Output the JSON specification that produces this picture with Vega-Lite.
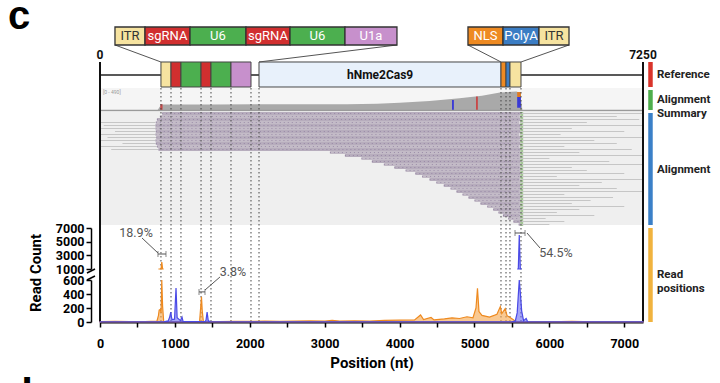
{
"$schema":"https://vega.github.io/schema/vega-lite/v6.json",
"width":720,"height":322,"autosize":"none",
"padding":{"left":0,"top":0,"right":0,"bottom":61},
"background":"white",
"config":{"view":{"stroke":null},"font":"Roboto","axis":{"grid":false}},
"resolve":{"scale":{"y":"independent","color":"independent"},"axis":{"x":"independent","y":"independent"}},
"datasets":{
"one":[{}],
"fwd":[{"pos":0,"count":6},{"pos":200,"count":8},{"pos":400,"count":5},{"pos":600,"count":7},{"pos":760,"count":12},{"pos":780,"count":90},{"pos":790,"count":170},{"pos":805,"count":180},{"pos":815,"count":130},{"pos":825,"count":2020},{"pos":836,"count":220},{"pos":850,"count":10},{"pos":900,"count":5},{"pos":1100,"count":6},{"pos":1330,"count":10},{"pos":1345,"count":220},{"pos":1355,"count":360},{"pos":1365,"count":160},{"pos":1380,"count":8},{"pos":1600,"count":6},{"pos":1800,"count":10},{"pos":2000,"count":8},{"pos":2200,"count":14},{"pos":2400,"count":9},{"pos":2600,"count":12},{"pos":2800,"count":16},{"pos":3000,"count":12},{"pos":3100,"count":24},{"pos":3200,"count":14},{"pos":3400,"count":18},{"pos":3600,"count":14},{"pos":3800,"count":22},{"pos":4000,"count":26},{"pos":4200,"count":30},{"pos":4280,"count":100},{"pos":4320,"count":35},{"pos":4420,"count":65},{"pos":4460,"count":30},{"pos":4600,"count":45},{"pos":4700,"count":60},{"pos":4800,"count":50},{"pos":4900,"count":75},{"pos":4980,"count":60},{"pos":5020,"count":200},{"pos":5040,"count":480},{"pos":5060,"count":150},{"pos":5100,"count":95},{"pos":5200,"count":70},{"pos":5300,"count":110},{"pos":5345,"count":220},{"pos":5365,"count":120},{"pos":5410,"count":190},{"pos":5435,"count":90},{"pos":5480,"count":60},{"pos":5530,"count":25},{"pos":5570,"count":5},{"pos":5650,"count":2},{"pos":6000,"count":3},{"pos":6300,"count":9},{"pos":6600,"count":3},{"pos":7000,"count":2},{"pos":7250,"count":2}],
"rev":[{"pos":0,"count":3},{"pos":850,"count":3},{"pos":910,"count":15},{"pos":930,"count":70},{"pos":945,"count":140},{"pos":960,"count":35},{"pos":995,"count":40},{"pos":1015,"count":485},{"pos":1030,"count":60},{"pos":1075,"count":20},{"pos":1095,"count":70},{"pos":1110,"count":5},{"pos":1400,"count":4},{"pos":1415,"count":25},{"pos":1430,"count":140},{"pos":1445,"count":20},{"pos":1470,"count":3},{"pos":5500,"count":3},{"pos":5545,"count":15},{"pos":5570,"count":130},{"pos":5585,"count":380},{"pos":5598,"count":5970},{"pos":5612,"count":420},{"pos":5630,"count":160},{"pos":5655,"count":20},{"pos":5690,"count":50},{"pos":5710,"count":4},{"pos":7250,"count":3}],
"coverage":[{"pos":770,"depth":0},{"pos":800,"depth":80},{"pos":830,"depth":125},{"pos":1500,"depth":125},{"pos":2500,"depth":128},{"pos":3300,"depth":130},{"pos":3700,"depth":140},{"pos":4000,"depth":160},{"pos":4400,"depth":200},{"pos":4800,"depth":260},{"pos":5100,"depth":320},{"pos":5340,"depth":390},{"pos":5560,"depth":410},{"pos":5610,"depth":380},{"pos":5640,"depth":0}],
"mism":[{"start":805,"end":835,"lo":0,"hi":130,"base":"T"},{"start":4700,"end":4725,"lo":0,"hi":220,"base":"C"},{"start":5020,"end":5045,"lo":0,"hi":300,"base":"T"},{"start":5570,"end":5620,"lo":50,"hi":290,"base":"C"},{"start":5570,"end":5620,"lo":290,"hi":400,"base":"G"}],
"reads":[{"row":0,"start":830,"end":5610,"strand":"+"},{"row":1,"start":800,"end":5605,"strand":"-"},{"row":2,"start":760,"end":5610,"strand":"+"},{"row":3,"start":745,"end":5600,"strand":"-"},{"row":4,"start":740,"end":5610,"strand":"+"},{"row":5,"start":740,"end":5608,"strand":"-"},{"row":6,"start":745,"end":5610,"strand":"+"},{"row":7,"start":740,"end":5600,"strand":"-"},{"row":8,"start":750,"end":5610,"strand":"+"},{"row":9,"start":740,"end":5605,"strand":"-"},{"row":10,"start":745,"end":5610,"strand":"+"},{"row":11,"start":760,"end":5602,"strand":"-"},{"row":12,"start":780,"end":5610,"strand":"+"},{"row":13,"start":3070,"end":5610,"strand":"-"},{"row":14,"start":3270,"end":5605,"strand":"+"},{"row":15,"start":3490,"end":5610,"strand":"-"},{"row":16,"start":3630,"end":5608,"strand":"+"},{"row":17,"start":3790,"end":5610,"strand":"-"},{"row":18,"start":3930,"end":5605,"strand":"+"},{"row":19,"start":4080,"end":5610,"strand":"-"},{"row":20,"start":4210,"end":5608,"strand":"+"},{"row":21,"start":4300,"end":5610,"strand":"-"},{"row":22,"start":4400,"end":5605,"strand":"+"},{"row":23,"start":4490,"end":5610,"strand":"-"},{"row":24,"start":4590,"end":5608,"strand":"+"},{"row":25,"start":4680,"end":5610,"strand":"-"},{"row":26,"start":4760,"end":5605,"strand":"+"},{"row":27,"start":4840,"end":5610,"strand":"-"},{"row":28,"start":4920,"end":5608,"strand":"+"},{"row":29,"start":5000,"end":5610,"strand":"-"},{"row":30,"start":5080,"end":5605,"strand":"+"},{"row":31,"start":5170,"end":5610,"strand":"-"},{"row":32,"start":5250,"end":5608,"strand":"+"},{"row":33,"start":5320,"end":5610,"strand":"-"},{"row":34,"start":5380,"end":5605,"strand":"+"},{"row":35,"start":5450,"end":5610,"strand":"-"},{"row":36,"start":5520,"end":5612,"strand":"+"},{"row":37,"start":5590,"end":5615,"strand":"-"}],
"tails":[{"row":0,"start":5615,"end":7250},{"row":1,"start":5615,"end":6900},{"row":2,"start":5615,"end":7200},{"row":3,"start":5615,"end":6500},{"row":4,"start":5615,"end":7250},{"row":5,"start":5615,"end":6300},{"row":6,"start":5615,"end":7000},{"row":7,"start":5615,"end":6150},{"row":8,"start":5615,"end":7250},{"row":9,"start":5615,"end":6600},{"row":10,"start":5615,"end":6900},{"row":11,"start":5615,"end":6200},{"row":12,"start":5615,"end":7100},{"row":13,"start":5615,"end":6400},{"row":14,"start":5615,"end":7250},{"row":15,"start":5615,"end":6000},{"row":16,"start":5615,"end":6800},{"row":17,"start":5615,"end":7250},{"row":18,"start":5615,"end":6300},{"row":19,"start":5615,"end":6500},{"row":20,"start":5615,"end":7000},{"row":21,"start":5615,"end":6100},{"row":22,"start":5615,"end":7250},{"row":23,"start":5615,"end":6700},{"row":24,"start":5615,"end":6400},{"row":25,"start":5615,"end":6900},{"row":26,"start":5615,"end":7250},{"row":27,"start":5615,"end":6200},{"row":28,"start":5615,"end":6850},{"row":29,"start":5615,"end":6550},{"row":30,"start":5615,"end":6300},{"row":31,"start":5615,"end":7000},{"row":32,"start":5615,"end":6400},{"row":33,"start":5615,"end":6100},{"row":34,"start":5615,"end":6600},{"row":35,"start":5615,"end":5950},{"row":36,"start":5615,"end":6200},{"row":37,"start":5615,"end":6000},{"row":3,"start":0,"end":740},{"row":4,"start":50,"end":740},{"row":5,"start":0,"end":740},{"row":6,"start":200,"end":745},{"row":7,"start":0,"end":740},{"row":8,"start":100,"end":750},{"row":9,"start":0,"end":740},{"row":10,"start":300,"end":745},{"row":11,"start":0,"end":760},{"row":12,"start":150,"end":780}],
"features":[{"feature":"ITR","start":814,"end":948},{"feature":"sgRNA","start":948,"end":1081},{"feature":"U6","start":1081,"end":1349},{"feature":"sgRNA","start":1349,"end":1482},{"feature":"U6","start":1482,"end":1749},{"feature":"U1a","start":1749,"end":2016},{"feature":"hNme2Cas9","start":2123,"end":5354},{"feature":"NLS","start":5354,"end":5421},{"feature":"PolyA","start":5421,"end":5474},{"feature":"ITR","start":5474,"end":5621}],
"zoom":[{"feature":"ITR","start":200,"end":601},{"feature":"sgRNA","start":601,"end":1202},{"feature":"U6","start":1202,"end":1949},{"feature":"sgRNA","start":1949,"end":2537},{"feature":"U6","start":2537,"end":3271},{"feature":"U1a","start":3271,"end":3965},{"feature":"NLS","start":4913,"end":5381},{"feature":"PolyA","start":5381,"end":5861},{"feature":"ITR","start":5861,"end":6262}],
"bounds":[{"pos":814},{"pos":948},{"pos":1081},{"pos":1349},{"pos":1482},{"pos":1749},{"pos":2016},{"pos":2123},{"pos":5354},{"pos":5421},{"pos":5474},{"pos":5621}],
"conn":[{"zx":200,"rx":814},{"zx":3965,"rx":2123},{"zx":4913,"rx":5354},{"zx":6262,"rx":5621}],
"ends":[{"pos":0,"label":"0"},{"pos":7250,"label":"7250"}],
"ann_u":[{"label":"18.9%","b0":774,"b1":881,"by":3195,"lx0":774,"ly0":3340,"lx1":561,"ly1":5537,"tx":481,"ty":6268},{"label":"54.5%","b0":5541,"b1":5675,"by":6268,"lx0":5701,"ly0":6268,"lx1":5875,"ly1":4073,"tx":6088,"ty":3341}],
"ann_l":[{"label":"3.8%","b0":1322,"b1":1402,"by":430,"lx0":1402,"ly0":457,"lx1":1602,"ly1":643,"tx":1776,"ty":714}]
},
"layer":[
{"data":{"name":"one"},"mark":{"type":"rect","color":"#f5f5f5"},"encoding":{"x":{"datum":0,"type":"quantitative","scale":{"domain":[0,7250],"range":[100,643],"nice":false,"zero":false},"axis":null},"x2":{"datum":7250},"y":{"datum":0.7932,"type":"quantitative","scale":{"domain":[0,1],"range":[322,27],"nice":false,"zero":false},"axis":null},"y2":{"datum":0.7186}}},
{"data":{"name":"one"},"mark":{"type":"rect","color":"#efefef"},"encoding":{"x":{"datum":0,"type":"quantitative","axis":null},"x2":{"datum":7250},"y":{"datum":0.7119,"type":"quantitative","scale":{"domain":[0,1],"range":[322,27],"nice":false,"zero":false},"axis":null},"y2":{"datum":0.3288}}},
{"data":{"name":"coverage"},"mark":{"type":"area","color":"#a9a9a9"},"encoding":{"x":{"field":"pos","type":"quantitative","axis":null},"y":{"field":"depth","type":"quantitative","scale":{"domain":[0,490],"range":[110,88],"nice":false,"zero":false},"axis":null},"y2":{"datum":0}}},
{"data":{"name":"mism"},"mark":{"type":"rect"},"encoding":{"x":{"field":"start","type":"quantitative","axis":null},"x2":{"field":"end"},"y":{"field":"lo","type":"quantitative","scale":{"domain":[0,490],"range":[110,88],"nice":false,"zero":false},"axis":null},"y2":{"field":"hi"},"color":{"field":"base","type":"nominal","scale":{"domain":["A","C","G","T"],"range":["#3fa34d","#3a3ad6","#e07a20","#c84848"]},"legend":null}}},
{"data":{"name":"one"},"mark":{"type":"rule","color":"#9a9a9a","strokeWidth":1.5},"encoding":{"x":{"datum":0,"type":"quantitative","axis":null},"x2":{"datum":7250},"y":{"datum":0.7169,"type":"quantitative","scale":{"domain":[0,1],"range":[322,27],"nice":false,"zero":false},"axis":null}}},
{"data":{"name":"reads"},"mark":{"type":"rect"},"encoding":{"x":{"field":"start","type":"quantitative","axis":null},"x2":{"field":"end"},"y":{"field":"row","type":"ordinal","scale":{"type":"band","range":[112,226],"paddingInner":0,"paddingOuter":0},"axis":null},"color":{"field":"strand","type":"nominal","scale":{"domain":["+","-"],"range":["#b7adbd","#c3bbc7"]},"legend":null}}},
{"data":{"name":"reads"},"mark":{"type":"rule","color":"#7e6a92","strokeWidth":1,"strokeDash":[1,3],"opacity":0.55},"encoding":{"x":{"field":"start","type":"quantitative","axis":null},"x2":{"field":"end"},"y":{"field":"row","type":"ordinal","scale":{"type":"band","range":[112,226],"paddingInner":0,"paddingOuter":0},"axis":null}}},
{"data":{"name":"reads"},"mark":{"type":"rect","color":"#8cb87a","opacity":0.75},"encoding":{"x":{"datum":5612,"type":"quantitative","axis":null},"x2":{"datum":5650},"y":{"field":"row","type":"ordinal","scale":{"type":"band","range":[112,226],"paddingInner":0,"paddingOuter":0},"axis":null}}},
{"data":{"name":"tails"},"mark":{"type":"rule","color":"#c6c6c6","strokeWidth":1},"encoding":{"x":{"field":"start","type":"quantitative","axis":null},"x2":{"field":"end"},"y":{"field":"row","type":"ordinal","scale":{"type":"band","range":[112,226],"paddingInner":0,"paddingOuter":0},"axis":null}}},
{"data":{"name":"bounds"},"mark":{"type":"rule","color":"#444","strokeWidth":1,"strokeDash":[1.5,2.5]},"encoding":{"x":{"field":"pos","type":"quantitative","axis":null},"y":{"datum":0.7932,"type":"quantitative","scale":{"domain":[0,1],"range":[322,27],"nice":false,"zero":false},"axis":null},"y2":{"datum":0}}},
{"data":{"name":"one"},"mark":{"type":"rule","color":"#222","strokeWidth":1.5},"encoding":{"x":{"datum":0,"type":"quantitative","axis":null},"x2":{"datum":7250},"y":{"datum":0.8373,"type":"quantitative","scale":{"domain":[0,1],"range":[322,27],"nice":false,"zero":false},"axis":null}}},
{"data":{"name":"features"},"mark":{"type":"rect","stroke":"#444","strokeWidth":1},"encoding":{"x":{"field":"start","type":"quantitative","axis":null},"x2":{"field":"end"},"y":{"datum":0.8814,"type":"quantitative","scale":{"domain":[0,1],"range":[322,27],"nice":false,"zero":false},"axis":null},"y2":{"datum":0.7966},"color":{"field":"feature","type":"nominal","scale":{"domain":["ITR","sgRNA","U6","U1a","hNme2Cas9","NLS","PolyA"],"range":["#f6e3a0","#d12f2f","#4caf4f","#c790cc","#e8f1fb","#ee8a22","#3b7dc4"]},"legend":null}}},
{"data":{"name":"one"},"mark":{"type":"text","text":"hNme2Cas9","font":"Roboto","fontSize":12,"fontWeight":"bold","color":"#111"},"encoding":{"x":{"datum":3740,"type":"quantitative","axis":null},"y":{"datum":0.8373,"type":"quantitative","scale":{"domain":[0,1],"range":[322,27],"nice":false,"zero":false},"axis":null}}},
{"data":{"name":"conn"},"mark":{"type":"rule","color":"#555","strokeWidth":1},"encoding":{"x":{"field":"zx","type":"quantitative","axis":null},"x2":{"field":"rx"},"y":{"datum":0.939,"type":"quantitative","scale":{"domain":[0,1],"range":[322,27],"nice":false,"zero":false},"axis":null},"y2":{"datum":0.8814}}},
{"data":{"name":"zoom"},"mark":{"type":"rect","stroke":"#333","strokeWidth":1.3},"encoding":{"x":{"field":"start","type":"quantitative","axis":null},"x2":{"field":"end"},"y":{"datum":1.0,"type":"quantitative","scale":{"domain":[0,1],"range":[322,27],"nice":false,"zero":false},"axis":null},"y2":{"datum":0.939},"color":{"field":"feature","type":"nominal","scale":{"domain":["ITR","sgRNA","U6","U1a","hNme2Cas9","NLS","PolyA"],"range":["#f6e3a0","#d12f2f","#4caf4f","#c790cc","#e8f1fb","#ee8a22","#3b7dc4"]},"legend":null}}},
{"data":{"name":"zoom"},"transform":[{"calculate":"(datum.start+datum.end)/2","as":"mid"}],"mark":{"type":"text","font":"Roboto","fontSize":13},"encoding":{"x":{"field":"mid","type":"quantitative","axis":null},"y":{"datum":0.9695,"type":"quantitative","scale":{"domain":[0,1],"range":[322,27],"nice":false,"zero":false},"axis":null},"text":{"field":"feature"},"color":{"condition":{"test":"datum.feature === 'ITR'","value":"#333"},"value":"#ffffff"}}},
{"data":{"name":"one"},"mark":{"type":"rule","color":"#111","strokeWidth":2},"encoding":{"x":{"datum":0,"type":"quantitative","axis":null},"y":{"datum":0.8814,"type":"quantitative","scale":{"domain":[0,1],"range":[322,27],"nice":false,"zero":false},"axis":null},"y2":{"datum":0}}},
{"data":{"name":"one"},"mark":{"type":"rule","color":"#111","strokeWidth":2},"encoding":{"x":{"datum":7250,"type":"quantitative","axis":null},"y":{"datum":0.8814,"type":"quantitative","scale":{"domain":[0,1],"range":[322,27],"nice":false,"zero":false},"axis":null},"y2":{"datum":0}}},
{"data":{"name":"ends"},"mark":{"type":"text","font":"Roboto","fontSize":12,"fontWeight":"bold","color":"#111"},"encoding":{"x":{"field":"pos","type":"quantitative","axis":null},"y":{"datum":0.9051,"type":"quantitative","scale":{"domain":[0,1],"range":[322,27],"nice":false,"zero":false},"axis":null},"text":{"field":"label"}}},
{"data":{"name":"one"},"mark":{"type":"rect","color":"#d9342b"},"encoding":{"x":{"datum":7320,"type":"quantitative","axis":null},"x2":{"datum":7380},"y":{"datum":0.8814,"type":"quantitative","scale":{"domain":[0,1],"range":[322,27],"nice":false,"zero":false},"axis":null},"y2":{"datum":0.7966}}},
{"data":{"name":"one"},"mark":{"type":"rect","color":"#4fae4c"},"encoding":{"x":{"datum":7320,"type":"quantitative","axis":null},"x2":{"datum":7380},"y":{"datum":0.7864,"type":"quantitative","scale":{"domain":[0,1],"range":[322,27],"nice":false,"zero":false},"axis":null},"y2":{"datum":0.7186}}},
{"data":{"name":"one"},"mark":{"type":"rect","color":"#3b80c8"},"encoding":{"x":{"datum":7320,"type":"quantitative","axis":null},"x2":{"datum":7380},"y":{"datum":0.7085,"type":"quantitative","scale":{"domain":[0,1],"range":[322,27],"nice":false,"zero":false},"axis":null},"y2":{"datum":0.3288}}},
{"data":{"name":"one"},"mark":{"type":"rect","color":"#f1b33e"},"encoding":{"x":{"datum":7320,"type":"quantitative","axis":null},"x2":{"datum":7380},"y":{"datum":0.3186,"type":"quantitative","scale":{"domain":[0,1],"range":[322,27],"nice":false,"zero":false},"axis":null},"y2":{"datum":0}}},
{"data":{"name":"one"},"mark":{"type":"text","text":"Reference","align":"left","font":"Roboto","fontSize":11.5,"fontWeight":"bold","color":"#222"},"encoding":{"x":{"datum":7437,"type":"quantitative","axis":null},"y":{"datum":0.8373,"type":"quantitative","scale":{"domain":[0,1],"range":[322,27],"nice":false,"zero":false},"axis":null}}},
{"data":{"name":"one"},"mark":{"type":"text","text":["Alignment","Summary"],"lineHeight":14,"align":"left","font":"Roboto","fontSize":11.5,"fontWeight":"bold","color":"#222"},"encoding":{"x":{"datum":7437,"type":"quantitative","axis":null},"y":{"datum":0.7525,"type":"quantitative","scale":{"domain":[0,1],"range":[322,27],"nice":false,"zero":false},"axis":null}}},
{"data":{"name":"one"},"mark":{"type":"text","text":"Alignment","align":"left","font":"Roboto","fontSize":11.5,"fontWeight":"bold","color":"#222"},"encoding":{"x":{"datum":7437,"type":"quantitative","axis":null},"y":{"datum":0.5153,"type":"quantitative","scale":{"domain":[0,1],"range":[322,27],"nice":false,"zero":false},"axis":null}}},
{"data":{"name":"one"},"mark":{"type":"text","text":["Read","positions"],"lineHeight":14,"align":"left","font":"Roboto","fontSize":11.5,"fontWeight":"bold","color":"#222"},"encoding":{"x":{"datum":7437,"type":"quantitative","axis":null},"y":{"datum":0.1593,"type":"quantitative","scale":{"domain":[0,1],"range":[322,27],"nice":false,"zero":false},"axis":null}}},
{"data":{"name":"one"},"mark":{"type":"text","text":"[0 - 490]","align":"left","font":"Roboto","fontSize":5,"color":"#999"},"encoding":{"x":{"datum":40,"type":"quantitative","axis":null},"y":{"datum":0.7797,"type":"quantitative","scale":{"domain":[0,1],"range":[322,27],"nice":false,"zero":false},"axis":null}}},
{"data":{"name":"one"},"mark":{"type":"text","text":"c","baseline":"alphabetic","font":"Liberation Sans","fontSize":40,"fontWeight":"bold","color":"#000"},"encoding":{"x":{"datum":-1081,"type":"quantitative","axis":null},"y":{"datum":0.9932,"type":"quantitative","scale":{"domain":[0,1],"range":[322,27],"nice":false,"zero":false},"axis":null}}},
{"data":{"name":"fwd"},"mark":{"type":"area","color":"#f5a54a","fillOpacity":0.6,"stroke":"#ee8a20","strokeWidth":1.2},"encoding":{"x":{"field":"pos","type":"quantitative","axis":{"values":[0,500,1000,1500,2000,2500,3000,3500,4000,4500,5000,5500,6000,6500,7000],"labelExpr":"datum.value % 1000 === 0 ? format(datum.value, 'd') : ''","title":"Position (nt)","titleFont":"Roboto","titleFontSize":15,"titleFontWeight":"bold","titleColor":"#000","titlePadding":6,"labelFont":"Roboto","labelFontSize":12.5,"labelFontWeight":"bold","labelColor":"#000","labelPadding":10,"labelOverlap":false,"labelFlush":false,"domainColor":"#000","domainWidth":2,"tickColor":"#000","tickWidth":1.5,"tickSize":5}},"y":{"field":"count","type":"quantitative","scale":{"domain":[0,600],"range":[322,280],"clamp":true,"nice":false,"zero":false},"axis":{"orient":"left","values":[0,200,400,600],"format":"d","offset":-91,"title":null,"labelFont":"Roboto","labelFontSize":12.5,"labelFontWeight":"bold","labelColor":"#000","labelPadding":2,"labelOverlap":false,"domainColor":"#000","domainWidth":1.5,"tickColor":"#000","tickWidth":1.5,"tickSize":5}},"y2":{"datum":0}}},
{"data":{"name":"rev"},"mark":{"type":"area","color":"#6a6af2","fillOpacity":0.6,"stroke":"#4a4ae6","strokeWidth":1.2},"encoding":{"x":{"field":"pos","type":"quantitative","axis":null},"y":{"field":"count","type":"quantitative","scale":{"domain":[0,600],"range":[322,280],"clamp":true,"nice":false,"zero":false},"axis":null},"y2":{"datum":0}}},
{"data":{"name":"fwd"},"transform":[{"filter":"datum.pos >= 780 && datum.pos <= 860"}],"mark":{"type":"area","color":"#f5a54a","fillOpacity":0.6,"stroke":"#ee8a20","strokeWidth":1.2},"encoding":{"x":{"field":"pos","type":"quantitative","axis":null},"y":{"field":"count","type":"quantitative","scale":{"domain":[1000,7000],"range":[269,228],"clamp":true,"nice":false,"zero":false},"axis":{"orient":"left","values":[1000,3000,5000,7000],"format":"d","offset":-91,"title":null,"labelFont":"Roboto","labelFontSize":12.5,"labelFontWeight":"bold","labelColor":"#000","labelPadding":2,"labelOverlap":false,"domainColor":"#000","domainWidth":1.5,"tickColor":"#000","tickWidth":1.5,"tickSize":5}},"y2":{"datum":1000}}},
{"data":{"name":"rev"},"transform":[{"filter":"datum.pos >= 5560 && datum.pos <= 5640"}],"mark":{"type":"area","color":"#6a6af2","fillOpacity":0.6,"stroke":"#4a4ae6","strokeWidth":1.2},"encoding":{"x":{"field":"pos","type":"quantitative","axis":null},"y":{"field":"count","type":"quantitative","scale":{"domain":[1000,7000],"range":[269,228],"clamp":true,"nice":false,"zero":false},"axis":null},"y2":{"datum":1000}}},
{"data":{"name":"ann_u"},"layer":[
 {"mark":{"type":"rule","color":"#555","strokeWidth":1},"encoding":{"x":{"field":"b0","type":"quantitative","axis":null},"x2":{"field":"b1"},"y":{"field":"by","type":"quantitative","scale":{"domain":[1000,7000],"range":[269,228],"nice":false,"zero":false},"axis":null}}},
 {"mark":{"type":"tick","orient":"vertical","color":"#555","size":6,"thickness":1},"encoding":{"x":{"field":"b0","type":"quantitative","axis":null},"y":{"field":"by","type":"quantitative","scale":{"domain":[1000,7000],"range":[269,228],"nice":false,"zero":false},"axis":null}}},
 {"mark":{"type":"tick","orient":"vertical","color":"#555","size":6,"thickness":1},"encoding":{"x":{"field":"b1","type":"quantitative","axis":null},"y":{"field":"by","type":"quantitative","scale":{"domain":[1000,7000],"range":[269,228],"nice":false,"zero":false},"axis":null}}},
 {"mark":{"type":"rule","color":"#555","strokeWidth":1},"encoding":{"x":{"field":"lx0","type":"quantitative","axis":null},"x2":{"field":"lx1"},"y":{"field":"ly0","type":"quantitative","scale":{"domain":[1000,7000],"range":[269,228],"nice":false,"zero":false},"axis":null},"y2":{"field":"ly1"}}},
 {"mark":{"type":"text","color":"#555","font":"Roboto","fontSize":12.5},"encoding":{"x":{"field":"tx","type":"quantitative","axis":null},"y":{"field":"ty","type":"quantitative","scale":{"domain":[1000,7000],"range":[269,228],"nice":false,"zero":false},"axis":null},"text":{"field":"label"}}}
]},
{"data":{"name":"ann_l"},"layer":[
 {"mark":{"type":"rule","color":"#555","strokeWidth":1},"encoding":{"x":{"field":"b0","type":"quantitative","axis":null},"x2":{"field":"b1"},"y":{"field":"by","type":"quantitative","scale":{"domain":[0,600],"range":[322,280],"nice":false,"zero":false},"axis":null}}},
 {"mark":{"type":"tick","orient":"vertical","color":"#555","size":6,"thickness":1},"encoding":{"x":{"field":"b0","type":"quantitative","axis":null},"y":{"field":"by","type":"quantitative","scale":{"domain":[0,600],"range":[322,280],"nice":false,"zero":false},"axis":null}}},
 {"mark":{"type":"tick","orient":"vertical","color":"#555","size":6,"thickness":1},"encoding":{"x":{"field":"b1","type":"quantitative","axis":null},"y":{"field":"by","type":"quantitative","scale":{"domain":[0,600],"range":[322,280],"nice":false,"zero":false},"axis":null}}},
 {"mark":{"type":"rule","color":"#555","strokeWidth":1},"encoding":{"x":{"field":"lx0","type":"quantitative","axis":null},"x2":{"field":"lx1"},"y":{"field":"ly0","type":"quantitative","scale":{"domain":[0,600],"range":[322,280],"nice":false,"zero":false},"axis":null},"y2":{"field":"ly1"}}},
 {"mark":{"type":"text","color":"#555","font":"Roboto","fontSize":12.5},"encoding":{"x":{"field":"tx","type":"quantitative","axis":null},"y":{"field":"ty","type":"quantitative","scale":{"domain":[0,600],"range":[322,280],"nice":false,"zero":false},"axis":null},"text":{"field":"label"}}}
]},
{"data":{"name":"one"},"mark":{"type":"rule","color":"#000","strokeWidth":1.5},"encoding":{"x":{"datum":-174,"type":"quantitative","axis":null},"x2":{"datum":-67},"y":{"datum":700,"type":"quantitative","scale":{"domain":[0,600],"range":[322,280],"nice":false,"zero":false},"axis":null},"y2":{"datum":757}}},
{"data":{"name":"one"},"mark":{"type":"rule","color":"#000","strokeWidth":1.5},"encoding":{"x":{"datum":-174,"type":"quantitative","axis":null},"x2":{"datum":-67},"y":{"datum":600,"type":"quantitative","scale":{"domain":[0,600],"range":[322,280],"nice":false,"zero":false},"axis":null},"y2":{"datum":657}}},
{"data":{"name":"one"},"mark":{"type":"text","text":"Read Count","angle":270,"font":"Roboto","fontSize":15,"fontWeight":"bold","color":"#000"},"encoding":{"x":{"datum":-855,"type":"quantitative","axis":null},"y":{"datum":700,"type":"quantitative","scale":{"domain":[0,600],"range":[322,280],"nice":false,"zero":false},"axis":null}}},
{"data":{"name":"one"},"mark":{"type":"text","text":"d","baseline":"alphabetic","font":"Liberation Sans","fontSize":42,"fontWeight":"bold","color":"#000"},"encoding":{"x":{"datum":-1068,"type":"quantitative","axis":null},"y":{"datum":-1229,"type":"quantitative","scale":{"domain":[0,600],"range":[322,280],"nice":false,"zero":false},"axis":null}}}
]
}
